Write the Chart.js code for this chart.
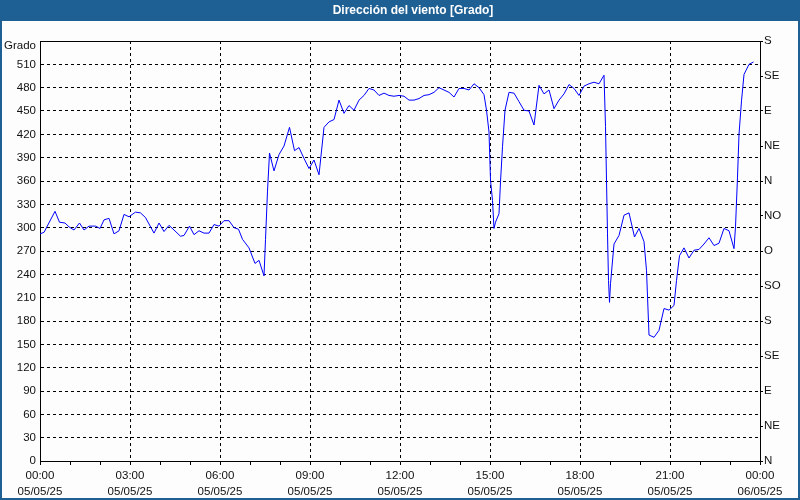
<!DOCTYPE html>
<html>
<head>
<meta charset="utf-8">
<script src="https://cdn.jsdelivr.net/npm/chart.js@4.4.1/dist/chart.umd.min.js"></script>
<style>
    html, body { margin: 0; padding: 0; background: #fff; }
    #wrap { width: 800px; height: 500px; }
</style>
</head>
<body>
<div id="wrap"><canvas id="chart" width="800" height="500"></canvas></div>
<script>
const titulo = 'Dirección del viento [Grado]';
const unidad = 'Grado';
const fechas = ['05/05/25', '06/05/25'];
const rumbos = ['N', 'NE', 'E', 'SE', 'S', 'SO', 'O', 'NO', 'N', 'NE', 'E', 'SE', 'S'];

// minutos desde las 00:00 del 05/05/25
const minutos = [
    0, 8, 30, 39, 50, 58, 68, 79, 88, 98, 111, 120, 128, 138, 148, 158, 168, 178,
    191, 201, 211, 228, 238, 248, 258, 268, 281, 288, 299, 308, 318, 328, 338, 348,
    358, 368, 378, 388, 397, 405, 418, 430, 438, 448, 451, 455, 459, 468, 478, 488,
    499, 509, 518, 528, 538, 548, 558, 568, 578, 588, 598, 608, 618, 628, 638, 648,
    658, 668, 678, 688, 698, 708, 718, 728, 738, 748, 758, 768, 778, 788, 798, 808,
    818, 828, 838, 848, 858, 868, 878, 888, 893, 898, 901, 905, 908, 911, 918, 921,
    925, 930, 938, 948, 958, 968, 978, 988, 998, 1008, 1018, 1028, 1038, 1048, 1058,
    1068, 1078, 1088, 1098, 1108, 1118, 1128, 1131, 1135, 1137, 1139, 1141, 1148,
    1158, 1168, 1178, 1189, 1198, 1208, 1213, 1218, 1228, 1238, 1248, 1258, 1268,
    1273, 1279, 1288, 1298, 1308, 1318, 1328, 1338, 1348, 1358, 1368, 1378, 1388,
    1391, 1395, 1398, 1403, 1408, 1418, 1427
];
const grado = [
    292, 294, 321, 307, 306, 301, 297, 306, 297, 302, 302, 299, 310, 312, 292, 296, 317, 314,
    320, 319, 313, 293, 306, 295, 303, 297, 289, 290, 302, 291, 296, 293, 293, 304,
    302, 309, 309, 300, 298, 285, 274, 254, 258, 238, 285, 347, 396, 373, 394, 405,
    429, 399, 403, 389, 376, 387, 368, 429, 436, 439, 464, 447, 457, 451, 464, 470,
    479, 477, 470, 473, 470, 469, 470, 469, 464, 464, 466, 470, 471, 474, 480, 477,
    474, 468, 479, 479, 477, 485, 480, 471, 451, 423, 361, 335, 299, 307, 318, 359,
    404, 451, 474, 473, 462, 451, 450, 432, 483, 472, 477, 453, 464, 472, 484,
    479, 470, 482, 485, 487, 485, 496, 430, 292, 232, 204, 228, 279,
    290, 316, 319, 288, 299, 282, 245, 162, 159, 168, 196, 194, 200,
    232, 264, 274, 261, 271, 272, 279, 287, 277, 280, 299, 296, 273,
    301, 365, 420, 463, 497, 510, 513
];

const fuente = { family: "'Liberation Sans', Arial, sans-serif", size: 11.5 };
const colorTexto = '#111';
const azul = '#1e5f94';

function hora(valor) {
    const h = Math.floor(valor / 60) % 24;
    return String(h).padStart(2, '0') + ':00';
}

const marco = {
    id: 'marco',
    beforeDraw(chart) {
        const { ctx, width, height } = chart;
        ctx.save();
        ctx.fillStyle = '#fdfdfd';
        ctx.fillRect(0, 0, width, height);
        ctx.fillStyle = azul;
        ctx.fillRect(0, 0, width, 21);
        ctx.fillRect(0, 0, 2, height);
        ctx.fillRect(width - 2, 0, 2, height);
        ctx.fillRect(0, height - 2, width, 2);
        ctx.restore();
    },
    afterDraw(chart) {
        const { ctx, chartArea } = chart;
        ctx.save();
        // borde superior del area
        ctx.strokeStyle = '#000';
        ctx.lineWidth = 1;
        ctx.beginPath();
        ctx.moveTo(chartArea.left, chartArea.top + 0.5);
        ctx.lineTo(chartArea.right + 1, chartArea.top + 0.5);
        ctx.stroke();

        ctx.fillStyle = '#fff';
        ctx.font = "bold 12px 'Liberation Sans', Arial, sans-serif";
        ctx.textAlign = 'center';
        ctx.textBaseline = 'middle';
        ctx.fillText(titulo, 413, 11);

        ctx.fillStyle = colorTexto;
        ctx.font = "11.5px 'Liberation Sans', Arial, sans-serif";
        ctx.textAlign = 'right';
        ctx.fillText(unidad, 36, 46);
        ctx.restore();
    }
};

new Chart(document.getElementById('chart'), {
    type: 'line',
    data: {
        datasets: [{
            data: minutos.map((m, i) => ({ x: m, y: grado[i] })),
            borderColor: '#0000ff',
            borderWidth: 1,
            pointRadius: 0,
            tension: 0,
            fill: false
        }]
    },
    options: {
        responsive: false,
        animation: false,
        devicePixelRatio: 1,
        layout: { padding: { top: 41, left: 2, right: 2, bottom: 2 } },
        plugins: {
            legend: { display: false },
            tooltip: { enabled: false }
        },
        scales: {
            x: {
                type: 'linear',
                min: 0,
                max: 1440,
                afterFit(scale) { scale.height = 37; },
                border: { display: true, color: '#000', width: 1, dash: [3, 3] },
                grid: {
                    color: (c) => (c.tick && c.tick.value % 180 === 0 && c.tick.value > 0 && c.tick.value < 1440) ? '#000' : 'rgba(0,0,0,0)',
                    tickColor: '#000',
                    drawTicks: true,
                    tickLength: 4
                },
                ticks: {
                    stepSize: 60,
                    autoSkip: false,
                    maxRotation: 0,
                    padding: 3,
                    color: colorTexto,
                    font: { family: fuente.family, size: fuente.size, lineHeight: 1.4 },
                    callback: (v) => v % 180 === 0 ? [hora(v), v >= 1440 ? fechas[1] : fechas[0]] : ''
                }
            },
            y: {
                position: 'left',
                min: 0,
                max: 540,
                afterFit(scale) { scale.width = 38; },
                border: { display: true, color: '#000', width: 1, dash: [3, 3] },
                grid: {
                    color: (c) => (c.tick && c.tick.value > 0 && c.tick.value < 540) ? '#000' : 'rgba(0,0,0,0)',
                    drawTicks: false
                },
                ticks: {
                    stepSize: 30,
                    padding: 4,
                    color: colorTexto,
                    font: fuente,
                    callback: (v) => v === 540 ? '' : v
                }
            },
            y2: {
                position: 'right',
                min: 0,
                max: 540,
                afterFit(scale) { scale.width = 38; },
                border: { display: true, color: '#000', width: 1 },
                grid: {
                    drawOnChartArea: false,
                    tickColor: '#000',
                    tickLength: 3
                },
                ticks: {
                    stepSize: 45,
                    padding: 1,
                    color: colorTexto,
                    font: fuente,
                    callback: (v) => rumbos[Math.round(v / 45)]
                }
            }
        }
    },
    plugins: [marco]
});
</script>
</body>
</html>
